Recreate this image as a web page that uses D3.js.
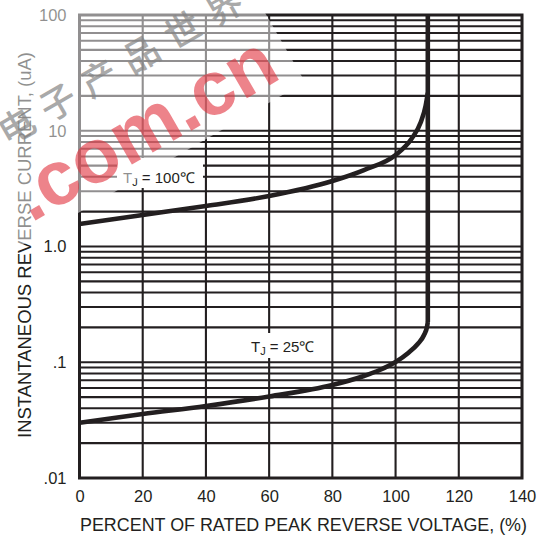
<!DOCTYPE html>
<html><head><meta charset="utf-8">
<script src="https://cdn.jsdelivr.net/npm/d3@7"></script>
<style>body{margin:0;background:#fff} svg{display:block}</style>
</head><body><svg id="c" width="543" height="539"></svg>
<script>
// ---- data ----
const xTicks = [0, 20, 40, 60, 80, 100, 120, 140];
const xTickLabels = ["0", "20", "40", "60", "80", "100", "120", "140"];
const yTicks = [0.01, 0.1, 1, 10, 100];
const yTickLabels = [".01", ".1", "1.0", "10", "100"];
const tj100X = [0, 20, 40, 60, 80, 90, 100, 105, 108, 109.5, 110.2];
const tj100Y = [1.565, 1.871, 2.238, 2.731, 3.681, 4.58, 6.172, 8.485, 11.9, 16.36, 21.2];
const tj25X = [0, 20, 40, 60, 80, 90, 95, 100, 104, 107, 109, 110, 110.2];
const tj25Y = [0.0300, 0.0357, 0.0419, 0.0506, 0.0636, 0.0761, 0.0857, 0.1005, 0.1202, 0.1438, 0.1719, 0.2057, 0.2227];
const breakdownX = 110.2;
const breakdownRange = [0.2227, 100];
const seriesLabels = ["100℃", "25℃"];
const xTitle = "PERCENT OF RATED PEAK REVERSE VOLTAGE, (%)";
const yTitle = "INSTANTANEOUS REVERSE CURRENT, (uA)";
const wmChars = ["电", "子", "产", "品", "世", "界"];
const wmText = ".com.cn";

// ---- layout ----
const svg = d3.select("#c");
const INK = "#231f20";
const FONT = "'Liberation Sans', Arial, Helvetica, sans-serif";
const x = d3.scaleLinear().domain([0, 140]).range([79.5, 522]);
const y = d3.scaleLog().domain([0.01, 100]).range([478, 15]);

// grid
const grid = svg.append("g");
grid.selectAll("line.h").data(y.ticks()).join("line")
  .attr("x1", x(0)).attr("x2", x(140))
  .attr("y1", d => y(d)).attr("y2", d => y(d))
  .attr("stroke", INK).attr("stroke-width", 2.1);
grid.selectAll("line.v").data(xTicks).join("line")
  .attr("x1", d => x(d)).attr("x2", d => x(d))
  .attr("y1", y(0.01)).attr("y2", y(100))
  .attr("stroke", INK).attr("stroke-width", 2.1);
svg.append("rect").attr("x", x(0)).attr("y", y(100))
  .attr("width", x(140) - x(0)).attr("height", y(0.01) - y(100))
  .attr("fill", "none").attr("stroke", INK).attr("stroke-width", 3);

// curves
const line = d3.line().x(d => x(d[0])).y(d => y(d[1])).curve(d3.curveMonotoneX);
const curves = [d3.zip(tj100X, tj100Y), d3.zip(tj25X, tj25Y)];
svg.append("g").selectAll("path").data(curves).join("path")
  .attr("d", line).attr("fill", "none").attr("stroke", INK)
  .attr("stroke-width", 4.6).attr("stroke-linejoin", "round");
svg.append("line")
  .attr("x1", x(breakdownX)).attr("x2", x(breakdownX))
  .attr("y1", y(breakdownRange[0])).attr("y2", y(breakdownRange[1]))
  .attr("stroke", INK).attr("stroke-width", 4.6);

// series labels with white boxes
const labelPos = [{tx: 123, ty: 182.5, bx: 117, by: 158, bw: 86, bh: 30},
                  {tx: 251, ty: 352, bx: 243, by: 333, bw: 84, bh: 25}];
seriesLabels.forEach((s, i) => {
  const p = labelPos[i];
  svg.append("rect").attr("x", p.bx).attr("y", p.by).attr("width", p.bw).attr("height", p.bh).attr("fill", "#fff");
  const t = svg.append("text").attr("x", p.tx).attr("y", p.ty)
    .attr("font-family", FONT).attr("font-size", 15).attr("fill", INK);
  t.append("tspan").text("T");
  t.append("tspan").attr("font-size", 11).attr("dy", 3).text("J");
  t.append("tspan").attr("dy", -3).text(" = " + s);
});

// axes
const yAxis = d3.axisLeft(y).tickValues(yTicks).tickFormat((d, i) => yTickLabels[i]).tickSize(0).tickPadding(13);
const ya = svg.append("g").attr("transform", `translate(${x(0)},0)`).call(yAxis);
const xAxis = d3.axisBottom(x).tickValues(xTicks).tickFormat((d, i) => xTickLabels[i]).tickSize(0).tickPadding(12);
const xa = svg.append("g").attr("transform", `translate(0,${y(0.01)})`).call(xAxis);
[ya, xa].forEach(a => {
  a.select(".domain").remove();
  a.selectAll("text").attr("font-family", FONT).attr("font-size", 16.5).attr("fill", INK);
});

// titles
svg.append("text").attr("x", 303.5).attr("y", 531).attr("text-anchor", "middle")
  .attr("font-family", FONT).attr("font-size", 18).attr("fill", INK)
  .attr("textLength", 447).attr("lengthAdjust", "spacingAndGlyphs").text(xTitle);
svg.append("text").attr("transform", "translate(30.5,245) rotate(-90)").attr("text-anchor", "middle")
  .attr("font-family", FONT).attr("font-size", 18).attr("fill", INK)
  .attr("textLength", 386).attr("lengthAdjust", "spacingAndGlyphs").text(yTitle);

// watermark
svg.append("g").attr("transform", "translate(305,82) rotate(-30)")
  .append("rect").attr("x", -800).attr("y", -400).attr("width", 800).attr("height", 400)
  .attr("fill", "#fff").attr("opacity", 0.5);
svg.append("g").attr("transform", "translate(15,124) rotate(-30)")
  .selectAll("text").data(wmChars).join("text")
  .attr("x", (d, i) => i * 48).attr("y", 0)
  .attr("text-anchor", "middle").attr("dominant-baseline", "central")
  .attr("font-family", "'Noto Sans CJK SC', sans-serif").attr("font-weight", 500)
  .attr("font-size", 36).attr("fill", "#858585").attr("opacity", 0.7).text(d => d);
svg.append("text").attr("transform", "translate(31,223) rotate(-30)")
  .attr("font-family", FONT).attr("font-weight", 700).attr("font-size", 77)
  .attr("fill", "rgb(226,50,62)").attr("opacity", 0.6).text(wmText);
</script></body></html>
